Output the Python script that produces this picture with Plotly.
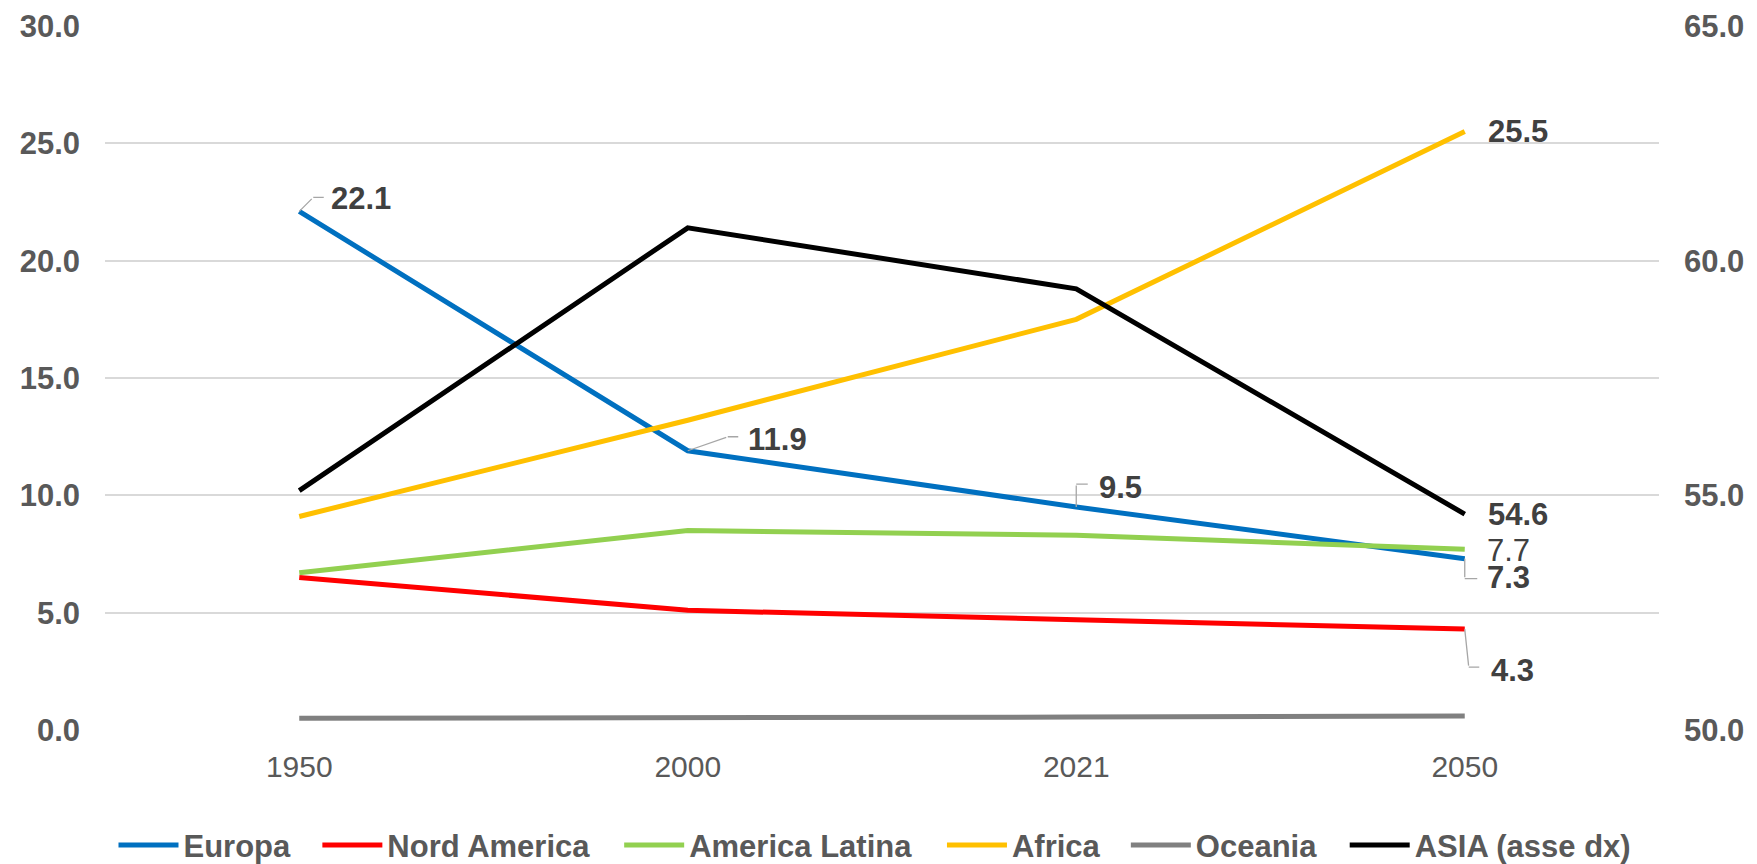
import plotly.graph_objects as go

years = ["1950", "2000", "2021", "2050"]
europa = [22.1, 11.9, 9.5, 7.3]
nord_america = [6.5, 5.1, 4.7, 4.3]
america_latina = [6.7, 8.5, 8.3, 7.7]
africa = [9.1, 13.2, 17.5, 25.5]
oceania = [0.5, 0.5, 0.55, 0.6]
asia = [55.1, 60.7, 59.4, 54.6]

left_ticks = [0, 5, 10, 15, 20, 25, 30]
right_ticks = [50, 55, 60, 65]

FONT = "Liberation Sans, Arial, sans-serif"
LABEL_COLOR = "#404040"
TICK_COLOR = "#595959"
LEADER = "#A6A6A6"

W, H = 1757, 864
ML, MR, MT, MB = 104.5, 97.5, 25.5, 133.5
PLOT_W = W - ML - MR

series = [
    ("Europa", europa, "#0070C0", "y"),
    ("Nord America", nord_america, "#FF0000", "y"),
    ("America Latina", america_latina, "#92D050", "y"),
    ("Africa", africa, "#FFC000", "y"),
    ("Oceania", oceania, "#808080", "y"),
    ("ASIA (asse dx)", asia, "#000000", "y2"),
]
# left edge (px) of each legend entry's line symbol
legend_left_px = [121, 325, 627, 950, 1134, 1353]

fig = go.Figure()
for k, (name, vals, color, ax) in enumerate(series):
    fig.add_trace(go.Scatter(
        x=years, y=vals, name=name, legend="legend" if k == 0 else f"legend{k + 1}",
        mode="lines", line=dict(color=color, width=5),
        yaxis=ax, hoverinfo="skip",
    ))

# data labels: (series, index, axis, text-center offset px (dx, dy down), bold, leader elbow (dx, dy down) or None, leader end x)
labels = [
    (europa, 0, "y", (62, -13), True, (14, -14), 26),
    (europa, 1, "y", (90, -11), True, (40, -14), 52),
    (europa, 2, "y", (44, -20), True, (0, -23), 13),
    (europa, 3, "y", (44, 19), True, (0, 20), 14),
    (america_latina, 3, "y", (44, 1), False, None, None),
    (nord_america, 3, "y", (48, 41), True, (4, 38), 16),
    (asia, 3, "y2", (53, 0), True, None, None),
    (africa, 3, "y", (53, 0), True, None, None),
]

for vals, i, yref, (dx, dy), bold, elbow, endx in labels:
    v = vals[i]
    txt = f"{v:.1f}"
    fig.add_annotation(
        x=i, y=v, xref="x", yref=yref, text=f"<b>{txt}</b>" if bold else txt,
        showarrow=False, xshift=dx, yshift=-dy,
        font=dict(family=FONT, size=31, color=LABEL_COLOR),
    )
    if elbow is not None:
        ex, ey = elbow
        fig.add_annotation(
            x=i, y=v, xref="x", yref=yref, text="",
            showarrow=True, arrowhead=0, arrowwidth=1.3, arrowcolor=LEADER,
            ax=ex, ay=ey, standoff=0, startstandoff=0,
        )
        fig.add_annotation(
            x=i, y=v, xref="x", yref=yref, text="",
            showarrow=True, arrowhead=0, arrowwidth=1.3, arrowcolor=LEADER,
            ax=endx - ex, ay=0, xshift=ex, yshift=-ey, standoff=0, startstandoff=0,
        )

legend_style = dict(
    orientation="h", y=-0.164, yanchor="middle", xanchor="left",
    font=dict(family=FONT, size=31, color=TICK_COLOR, weight="bold"),
    itemwidth=60, bgcolor="rgba(0,0,0,0)", borderwidth=0,
)
legends = {}
for k, px in enumerate(legend_left_px):
    key = "legend" if k == 0 else f"legend{k + 1}"
    legends[key] = dict(legend_style, x=(px - 8 - ML) / PLOT_W)

fig.update_layout(
    width=W, height=H,
    margin=dict(l=ML, r=MR, t=MT, b=MB, autoexpand=False),
    paper_bgcolor="white", plot_bgcolor="white",
    font=dict(family=FONT, color=TICK_COLOR),
    showlegend=True,
    xaxis=dict(
        type="category", categoryorder="array", categoryarray=years,
        range=[-0.5, len(years) - 0.5], autorange=False,
        showgrid=False, zeroline=False, showline=False, automargin=False,
        tickfont=dict(family=FONT, size=30, color=TICK_COLOR),
        ticks="", ticklabelstandoff=16,
    ),
    yaxis=dict(
        range=[0, 30], tickvals=left_ticks, tickformat=".1f",
        showgrid=True, gridcolor="#D9D9D9", gridwidth=1.5, zeroline=False,
        showline=False, ticks="", ticklabelstandoff=24, automargin=False,
        tickfont=dict(family=FONT, size=31, color=TICK_COLOR, weight="bold"),
    ),
    yaxis2=dict(
        range=[50, 65], tickvals=right_ticks, tickformat=".1f",
        overlaying="y", side="right", showgrid=False, zeroline=False,
        showline=False, ticks="", ticklabelstandoff=24, automargin=False,
        tickfont=dict(family=FONT, size=31, color=TICK_COLOR, weight="bold"),
    ),
    **legends,
)

fig.write_html(
    "out.html",
    config={"displayModeBar": False},
    post_script="document.body.style.margin='0';document.body.style.overflow='hidden';",
)
